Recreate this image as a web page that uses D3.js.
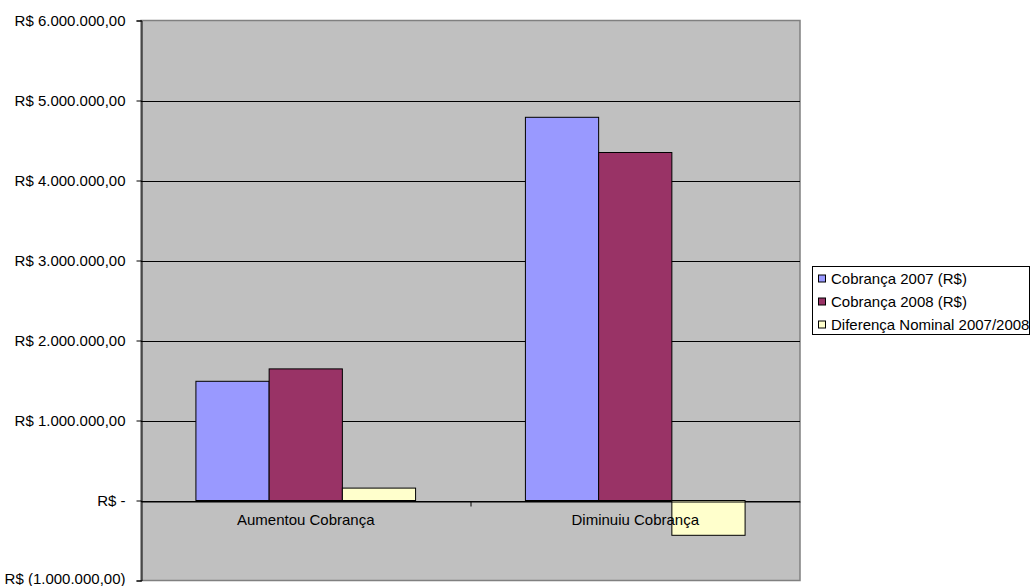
<!DOCTYPE html>
<html>
<head>
  <meta charset="UTF-8">
  <style>
body { margin: 0; background: #fff; }
text { font-family: 'Liberation Sans', Arial, sans-serif; fill: #000; }
  </style>
</head>
<body>
<svg id="chart"></svg>
<script src="https://d3js.org/d3.v7.min.js"></script>
<script>

let width = 1031, height = 586;

// data
let categories = ["Aumentou Cobrança", "Diminuiu Cobrança"];
let series = ["Cobrança 2007 (R$)", "Cobrança 2008 (R$)", "Diferença Nominal 2007/2008"];
let cobranca2007 = [1490000, 4790000];
let cobranca2008 = [1645000, 4350000];
let diferenca = [155000, -435000];
let yTicks = [-1000000, 0, 1000000, 2000000, 3000000, 4000000, 5000000, 6000000];
let colors = ["#9999FF", "#993366", "#FFFFCC"];

let values = [cobranca2007, cobranca2008, diferenca];

let svg = d3.select("#chart")
    .attr("width", width)
    .attr("height", height);

let plotLeft = 141, plotRight = 800, plotTop = 20.5, plotBottom = 580.5;

let y = d3.scaleLinear().domain([-1000000, 6000000]).range([plotBottom, plotTop]);
let x0 = d3.scaleBand().domain(categories).range([plotLeft, plotRight]);
let step = x0.bandwidth();
// excel gap width 150% -> bars take 3/4.5 of the category
let x1 = d3.scaleBand().domain(series).range([step / 6, step * 5 / 6]);

function fmt(v) {
    if (v == 0) return "R$ -";
    let s = d3.format(",.2f")(Math.abs(v)).replace(/,/g, "#").replace(".", ",").replace(/#/g, ".");
    return v < 0 ? "R$ (" + s + ")" : "R$ " + s;
}

// plot area
svg.append("rect")
    .attr("x", plotLeft).attr("y", plotTop)
    .attr("width", plotRight - plotLeft).attr("height", plotBottom - plotTop)
    .attr("fill", "#C0C0C0")
    .attr("stroke", "#808080")
    .attr("stroke-width", 1.5);

// gridlines
svg.append("g")
    .selectAll("line")
    .data(yTicks.filter(d => d > -1000000 && d < 6000000))
    .enter()
    .append("line")
    .attr("x1", plotLeft).attr("x2", plotRight)
    .attr("y1", d => Math.round(y(d)) + 0.5).attr("y2", d => Math.round(y(d)) + 0.5)
    .attr("stroke", "#000")
    .attr("stroke-width", 1);

// bars
let groups = svg.append("g")
    .selectAll("g")
    .data(categories)
    .enter()
    .append("g")
    .attr("transform", d => "translate(" + x0(d) + ",0)");

groups.selectAll("rect")
    .data((d, i) => series.map((s, j) => ({ s: s, v: values[j][i], c: colors[j] })))
    .enter()
    .append("rect")
    .attr("x", d => x1(d.s))
    .attr("width", x1.bandwidth())
    .attr("y", d => y(Math.max(0, d.v)))
    .attr("height", d => Math.abs(y(d.v) - y(0)))
    .attr("fill", d => d.c)
    .attr("stroke", "#000")
    .attr("stroke-width", 1);

// y axis
let yAxis = d3.axisLeft(y)
    .tickValues(yTicks)
    .tickSize(5)
    .tickPadding(11)
    .tickFormat(fmt);

let gy = svg.append("g")
    .attr("transform", "translate(" + (plotLeft + 0.5) + ",0)")
    .call(yAxis);
gy.select(".domain").attr("stroke", "#000");
gy.selectAll(".tick line").attr("stroke", "#000");
gy.selectAll("text")
    .style("font-size", "15px")
    .attr("fill", "#000")
    .style("font-family", "'Liberation Sans', Arial, sans-serif");
// lowest label sits on the page edge, lift it a little
gy.selectAll(".tick text").filter(d => d == -1000000).attr("y", -2);

// x axis on zero line
let xAxis = d3.axisBottom(x0)
    .tickSize(0)
    .tickPadding(13);

let gx = svg.append("g")
    .attr("transform", "translate(0," + (Math.round(y(0)) + 0.5) + ")")
    .call(xAxis);
gx.select(".domain").attr("stroke", "#000");
gx.selectAll("text")
    .style("font-size", "15px")
    .attr("fill", "#000")
    .style("font-family", "'Liberation Sans', Arial, sans-serif");

// category separators
gx.selectAll(".sep")
    .data([plotRight - step])
    .enter()
    .append("line")
    .attr("x1", d => d + 0.5).attr("x2", d => d + 0.5)
    .attr("y1", 0).attr("y2", 5)
    .attr("stroke", "#000");

// legend
let legend = svg.append("g");
legend.append("rect")
    .attr("x", 812.5).attr("y", 266.5)
    .attr("width", 217).attr("height", 68)
    .attr("fill", "#fff")
    .attr("stroke", "#000");

let items = legend.selectAll("g.item")
    .data(series)
    .enter()
    .append("g")
    .attr("class", "item")
    .attr("transform", (d, i) => "translate(818," + (278.5 + i * 23) + ")");

items.append("rect")
    .attr("x", 0.5).attr("y", -3.5)
    .attr("width", 7).attr("height", 7)
    .attr("fill", (d, i) => colors[i])
    .attr("stroke", "#000");

items.append("text")
    .attr("x", 13)
    .attr("y", 0)
    .attr("dy", "0.35em")
    .style("font-size", "15px")
    .text(d => d);

</script>
</body>
</html>
